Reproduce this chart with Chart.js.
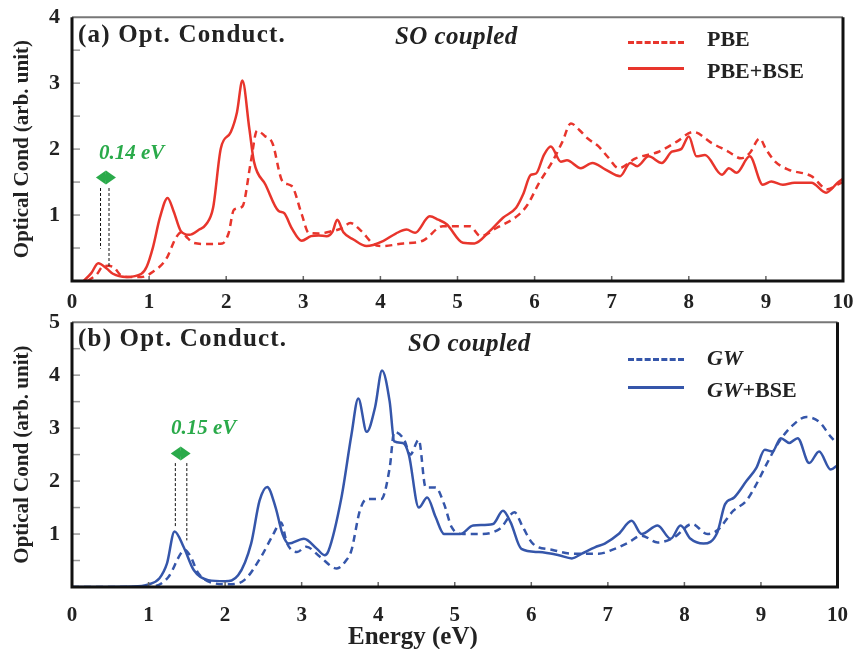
<!DOCTYPE html>
<html>
<head>
<meta charset="utf-8">
<script src="https://cdn.jsdelivr.net/npm/chart.js@4.4.0/dist/chart.umd.min.js"></script>
<style>
  body { margin: 0; background: #fff; width: 856px; height: 649px; overflow: hidden; position: relative; font-family: 'Liberation Serif', 'Times New Roman', serif; }
  canvas { position: absolute; left: 0; }
  #top { top: 0; }
  #bot { top: 305px; }
  .t { position: absolute; line-height: 1; white-space: nowrap; font-weight: bold; color: #222; }
  .panel { font-size: 25px; left: 78px; letter-spacing: 1.2px; }
  .so { font-size: 25px; font-style: italic; letter-spacing: 0.4px; }
  .leg { font-size: 22px; left: 707px; }
  .gap { font-size: 21px; font-style: italic; color: #2aaa4a; }
  .sample { position: absolute; left: 628px; width: 56px; height: 0; }
  .dash { border-top: 3px dashed; }
  .solid { border-top: 3px solid; }
  .xt { font-size: 25px; left: 348px; top: 623px; }
</style>
</head>
<body>
<canvas id="top" width="856" height="320"></canvas>
<canvas id="bot" width="856" height="344"></canvas>

<div class="t panel" style="top:21px">(a) Opt. Conduct.</div>
<div class="t so" style="left:395px; top:23px">SO coupled</div>
<div class="sample dash" style="top:41px; border-color:#e8352c"></div>
<div class="t leg" style="top:28px">PBE</div>
<div class="sample solid" style="top:67px; border-color:#e8352c"></div>
<div class="t leg" style="top:60px">PBE+BSE</div>
<div class="t gap" style="left:99px; top:142px">0.14 eV</div>

<div class="t panel" style="top:325px">(b) Opt. Conduct.</div>
<div class="t so" style="left:408px; top:330px">SO coupled</div>
<div class="sample dash" style="top:358px; border-color:#3556aa"></div>
<div class="t leg" style="top:347px"><i>GW</i></div>
<div class="sample solid" style="top:386px; border-color:#3556aa"></div>
<div class="t leg" style="top:379px"><i>GW</i>+BSE</div>
<div class="t gap" style="left:171px; top:417px">0.15 eV</div>

<div class="t xt">Energy (eV)</div>

<script>
// x axis ticks (eV)
const energyTicks = [0, 1, 2, 3, 4, 5, 6, 7, 8, 9, 10];

// (a) PBE, dashed
const pbeE = [0.2, 0.32, 0.40, 0.47, 0.55, 0.63, 0.75, 0.90, 1.05, 1.22, 1.35, 1.42, 1.50, 1.57, 1.75, 1.95, 2.03, 2.10, 2.21, 2.32, 2.40, 2.50, 2.60, 2.73, 2.85, 2.98, 3.07, 3.2, 3.35, 3.5, 3.61, 3.75, 3.91, 4.02, 4.3, 4.55, 4.81, 5.0, 5.16, 5.3, 5.50, 5.80, 5.91, 6.06, 6.23, 6.36, 6.47, 6.58, 6.69, 6.83, 6.95, 7.09, 7.31, 7.61, 7.84, 8.06, 8.30, 8.5, 8.68, 8.79, 8.92, 9.0, 9.12, 9.29, 9.59, 9.80, 9.93, 10];
const pbeV = [0, 0.1, 0.22, 0.23, 0.2, 0.09, 0.06, 0.06, 0.14, 0.33, 0.66, 0.74, 0.65, 0.58, 0.56, 0.57, 0.72, 1.08, 1.13, 1.81, 2.28, 2.2, 2.09, 1.51, 1.44, 1.01, 0.73, 0.72, 0.75, 0.8, 0.88, 0.76, 0.56, 0.53, 0.57, 0.61, 0.83, 0.83, 0.83, 0.68, 0.80, 1.01, 1.16, 1.49, 1.81, 2.11, 2.39, 2.29, 2.16, 2.04, 1.88, 1.71, 1.86, 1.96, 2.11, 2.26, 2.09, 1.97, 1.86, 1.94, 2.16, 2.0, 1.81, 1.69, 1.59, 1.39, 1.46, 1.5];

// (a) PBE+BSE, solid
const pbeBseE = [0.15, 0.25, 0.34, 0.45, 0.53, 0.70, 0.90, 0.97, 1.05, 1.14, 1.24, 1.32, 1.41, 1.52, 1.65, 1.74, 1.83, 1.93, 2.06, 2.14, 2.21, 2.30, 2.36, 2.51, 2.68, 2.75, 2.85, 2.98, 3.1, 3.2, 3.3, 3.38, 3.44, 3.52, 3.65, 3.82, 4.04, 4.2, 4.34, 4.45, 4.64, 4.75, 4.86, 5.07, 5.22, 5.42, 5.59, 5.76, 5.85, 5.95, 6.02, 6.12, 6.21, 6.34, 6.42, 6.60, 6.75, 6.92, 7.11, 7.24, 7.33, 7.48, 7.65, 7.78, 7.90, 8.0, 8.10, 8.21, 8.43, 8.52, 8.62, 8.79, 8.96, 9.07, 9.22, 9.37, 9.59, 9.78, 9.93, 10];
const pbeBseV = [0, 0.12, 0.27, 0.19, 0.11, 0.06, 0.11, 0.22, 0.51, 0.96, 1.26, 1.05, 0.76, 0.70, 0.78, 0.86, 1.11, 2.01, 2.26, 2.56, 3.04, 2.31, 1.81, 1.46, 1.06, 1.03, 0.8, 0.61, 0.68, 0.69, 0.68, 0.75, 0.93, 0.74, 0.63, 0.53, 0.61, 0.72, 0.78, 0.73, 0.98, 0.93, 0.86, 0.58, 0.57, 0.76, 0.96, 1.11, 1.31, 1.61, 1.63, 1.91, 2.04, 1.81, 1.83, 1.71, 1.79, 1.69, 1.59, 1.79, 1.74, 1.89, 1.79, 1.96, 2.0, 2.19, 1.89, 1.91, 1.61, 1.71, 1.64, 1.89, 1.46, 1.51, 1.46, 1.49, 1.49, 1.34, 1.49, 1.55];

// (b) GW, dashed
const gwE = [0, 1.0, 1.26, 1.42, 1.47, 1.54, 1.65, 1.83, 2.04, 2.25, 2.47, 2.62, 2.73, 2.81, 2.94, 3.06, 3.24, 3.46, 3.58, 3.65, 3.76, 3.85, 4.04, 4.15, 4.21, 4.34, 4.42, 4.53, 4.62, 4.75, 4.86, 4.96, 5.11, 5.32, 5.59, 5.78, 5.89, 6.02, 6.28, 6.53, 6.88, 7.09, 7.27, 7.44, 7.65, 7.87, 8.10, 8.30, 8.43, 8.64, 8.81, 8.94, 9.07, 9.24, 9.42, 9.59, 9.76, 9.91, 10];
const gwV = [0, 0, 0.19, 0.63, 0.70, 0.6, 0.26, 0.08, 0.05, 0.13, 0.57, 0.97, 1.22, 0.82, 0.66, 0.76, 0.57, 0.35, 0.5, 0.69, 1.44, 1.66, 1.66, 2.25, 2.93, 2.78, 2.5, 2.78, 1.88, 1.88, 1.57, 1.13, 1.0, 1.0, 1.10, 1.41, 1.13, 0.82, 0.70, 0.63, 0.63, 0.72, 0.84, 0.97, 0.84, 0.94, 1.19, 1.0, 1.07, 1.44, 1.63, 1.94, 2.31, 2.75, 3.06, 3.21, 3.12, 2.84, 2.7];

// (b) GW+BSE, solid
const gwBseE = [0, 0.8, 1.0, 1.14, 1.24, 1.34, 1.46, 1.59, 1.78, 2.0, 2.17, 2.34, 2.45, 2.55, 2.66, 2.75, 2.83, 3.03, 3.2, 3.3, 3.35, 3.52, 3.65, 3.74, 3.85, 3.96, 4.05, 4.15, 4.21, 4.32, 4.40, 4.53, 4.64, 4.75, 4.86, 5.07, 5.24, 5.50, 5.63, 5.73, 5.87, 6.10, 6.36, 6.53, 6.66, 6.83, 6.96, 7.14, 7.31, 7.44, 7.65, 7.82, 7.95, 8.08, 8.25, 8.43, 8.53, 8.65, 8.81, 8.94, 9.05, 9.15, 9.26, 9.37, 9.48, 9.63, 9.76, 9.91, 10];
const gwBseV = [0, 0.01, 0.05, 0.16, 0.44, 1.05, 0.75, 0.32, 0.13, 0.11, 0.22, 0.82, 1.63, 1.89, 1.50, 1.0, 0.82, 0.91, 0.72, 0.6, 0.68, 1.69, 2.87, 3.56, 2.93, 3.4, 4.09, 3.5, 2.75, 2.72, 2.5, 1.50, 1.69, 1.32, 1.0, 1.0, 1.16, 1.19, 1.44, 1.22, 0.72, 0.66, 0.6, 0.54, 0.63, 0.75, 0.82, 1.0, 1.25, 1.0, 1.16, 0.91, 1.16, 0.91, 0.82, 1.03, 1.56, 1.69, 2.0, 2.25, 2.59, 2.56, 2.81, 2.72, 2.81, 2.34, 2.56, 2.22, 2.3];

const RED = '#e8352c';
const BLUE = '#3556aa';
const SERIF = "'Liberation Serif', 'Times New Roman', serif";

const pts = (xs, ys) => xs.map((x, i) => ({ x: x, y: ys[i] }));

// frame, inward ticks and the green gap markers
const framePlugin = {
    id: 'frame',
    afterDraw(chart, args, opts) {
        const { ctx, chartArea: a, scales: { x, y } } = chart;
        ctx.save();
        // minor y ticks
        ctx.strokeStyle = '#999';
        ctx.lineWidth = 1.5;
        for (let v = 0.5; v < y.max; v += 0.5) {
            const py = y.getPixelForValue(v);
            ctx.beginPath(); ctx.moveTo(a.left, py); ctx.lineTo(a.left + 8, py); ctx.stroke();
        }
        // x ticks
        ctx.strokeStyle = '#666';
        energyTicks.forEach(e => {
            const px = x.getPixelForValue(e);
            ctx.beginPath(); ctx.moveTo(px, a.bottom); ctx.lineTo(px, a.bottom - 5); ctx.stroke();
        });
        // border
        ctx.strokeStyle = '#777'; ctx.lineWidth = 2;
        ctx.beginPath(); ctx.moveTo(a.left, a.top); ctx.lineTo(a.right, a.top); ctx.stroke();
        ctx.strokeStyle = '#111'; ctx.lineWidth = 3;
        ctx.beginPath();
        ctx.moveTo(a.left, a.top); ctx.lineTo(a.left, a.bottom); ctx.lineTo(a.right, a.bottom); ctx.lineTo(a.right, a.top);
        ctx.stroke();

        // gap markers
        const g = opts.gap;
        ctx.strokeStyle = '#111'; ctx.lineWidth = 1; ctx.setLineDash([3, 2]);
        g.lines.forEach(l => {
            const px = x.getPixelForValue(l[0]);
            ctx.beginPath(); ctx.moveTo(px, y.getPixelForValue(l[1])); ctx.lineTo(px, y.getPixelForValue(l[2])); ctx.stroke();
        });
        ctx.setLineDash([]);
        const x0 = x.getPixelForValue(g.arrow[0]), x1 = x.getPixelForValue(g.arrow[1]), ay = y.getPixelForValue(g.arrow[2]);
        ctx.fillStyle = '#2aaa4a';
        ctx.beginPath(); ctx.moveTo(x0, ay); ctx.lineTo(x0 + 10, ay - 7); ctx.lineTo(x0 + 10, ay + 7); ctx.closePath(); ctx.fill();
        ctx.beginPath(); ctx.moveTo(x1, ay); ctx.lineTo(x1 - 10, ay - 7); ctx.lineTo(x1 - 10, ay + 7); ctx.closePath(); ctx.fill();
        ctx.fillRect(x0 + 8, ay - 3, x1 - x0 - 16, 6);
        ctx.restore();
    }
};

function makeChart(id, dashed, solid, color, yMax, pad, xHeight, tickPad, gap) {
    return new Chart(document.getElementById(id), {
        type: 'line',
        data: {
            datasets: [
                { data: dashed, borderColor: color, borderWidth: 2.5, borderDash: [7, 5], pointRadius: 0, cubicInterpolationMode: 'monotone' },
                { data: solid, borderColor: color, borderWidth: 2.5, pointRadius: 0, cubicInterpolationMode: 'monotone' }
            ]
        },
        options: {
            responsive: false,
            animation: false,
            devicePixelRatio: 1,
            layout: { padding: pad },
            plugins: { legend: { display: false }, tooltip: { enabled: false }, frame: { gap: gap } },
            scales: {
                x: {
                    type: 'linear', min: 0, max: 10,
                    grid: { display: false }, border: { display: false },
                    afterBuildTicks: s => { s.ticks = energyTicks.map(v => ({ value: v })); },
                    ticks: { padding: tickPad, color: '#222', font: { family: SERIF, size: 21, weight: 'bold' } },
                    afterFit: s => { s.height = xHeight; }
                },
                y: {
                    min: 0, max: yMax,
                    grid: { display: false }, border: { display: false },
                    ticks: { stepSize: 1, padding: 4, color: '#222', font: { family: SERIF, size: 22, weight: 'bold' },
                        callback: v => v === 0 ? '' : v },
                    title: { display: true, text: 'Optical Cond (arb. unit)', color: '#222', padding: { top: 10, bottom: 0 },
                        font: { family: SERIF, size: 21, weight: 'bold' } },
                    afterFit: s => { s.width = 72; }
                }
            }
        },
        plugins: [framePlugin]
    });
}

makeChart('top', pts(pbeE, pbeV), pts(pbeBseE, pbeBseV), RED, 4,
    { top: 15, right: 13, bottom: 0, left: 0 }, 39, 1,
    { lines: [[0.37, 1.41, 0.49], [0.48, 1.41, 0.2]], arrow: [0.31, 0.57, 1.57] });

makeChart('bot', pts(gwE, gwV), pts(gwBseE, gwBseV), BLUE, 5,
    { top: 13, right: 13, bottom: 0, left: 0 }, 62, 8,
    { lines: [[1.35, 2.34, 1.12], [1.50, 2.34, 0.88]], arrow: [1.29, 1.55, 2.52] });
</script>
</body>
</html>
